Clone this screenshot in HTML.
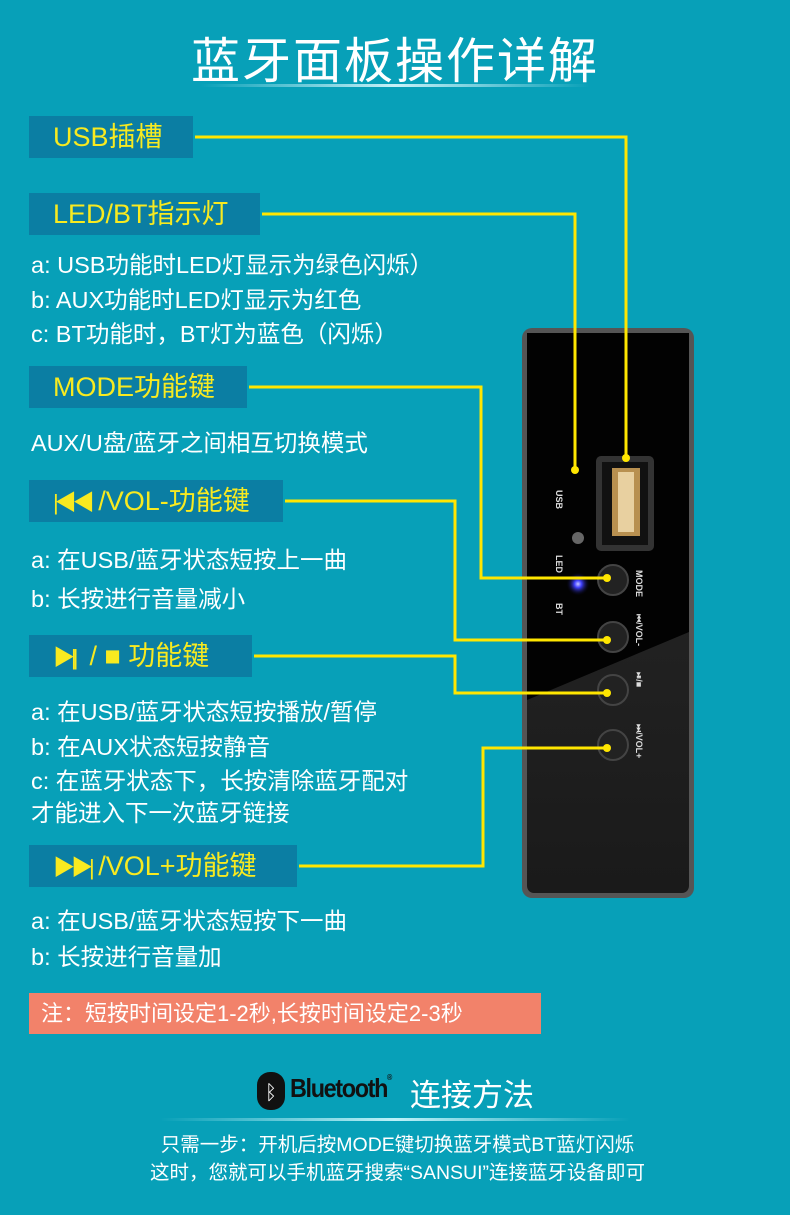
<!DOCTYPE html>
<html><head><meta charset="utf-8"><style>
body{margin:0;width:790px;height:1215px;background:#07a0b8;position:relative;overflow:hidden;font-family:"Liberation Sans","Noto Sans CJK SC",sans-serif;}
.t{position:absolute;white-space:nowrap;}
.box{position:absolute;background:#0b7ea3;color:#f8ea20;font-size:27px;line-height:42px;padding-left:24px;box-sizing:border-box;height:42px;white-space:nowrap;}
.w{position:absolute;color:#fff;font-size:23.5px;white-space:nowrap;}
.ic{font-size:22px;letter-spacing:-4px;}
</style></head><body>
<div class="t" style="left:0;width:790px;text-align:center;top:22px;font-size:49px;color:#fff;letter-spacing:2px;">蓝牙面板操作详解</div>
<div style="position:absolute;left:200px;width:390px;top:84px;height:3px;background:linear-gradient(90deg,rgba(255,255,255,0),rgba(220,250,255,.9),rgba(255,255,255,0));"></div>

<div class="box" style="left:29px;top:116px;width:164px;">USB插槽</div>
<div class="box" style="left:29px;top:193px;width:231px;">LED/BT指示灯</div>
<div class="w" style="left:31px;top:246px;">a: USB功能时LED灯显示为绿色闪烁）</div>
<div class="w" style="left:31px;top:281px;">b: AUX功能时LED灯显示为红色</div>
<div class="w" style="left:31px;top:315px;">c: BT功能时，BT灯为蓝色（闪烁）</div>
<div class="box" style="left:29px;top:366px;width:218px;">MODE功能键</div>
<div class="w" style="left:31px;top:424px;">AUX/U盘/蓝牙之间相互切换模式</div>
<div class="box" style="left:29px;top:480px;width:254px;"><span class="ic">|◀◀</span>&nbsp;/VOL-功能键</div>
<div class="w" style="left:31px;top:541px;">a: 在USB/蓝牙状态短按上一曲</div>
<div class="w" style="left:31px;top:580px;">b: 长按进行音量减小</div>
<div class="box" style="left:29px;top:635px;width:223px;"><span class="ic">▶||</span>&nbsp; / ■ 功能键</div>
<div class="w" style="left:31px;top:693px;">a: 在USB/蓝牙状态短按播放/暂停</div>
<div class="w" style="left:31px;top:728px;">b: 在AUX状态短按静音</div>
<div class="w" style="left:31px;top:762px;">c: 在蓝牙状态下，长按清除蓝牙配对</div>
<div class="w" style="left:31px;top:794px;">才能进入下一次蓝牙链接</div>
<div class="box" style="left:29px;top:845px;width:268px;"><span class="ic">▶▶|</span>&nbsp;/VOL+功能键</div>
<div class="w" style="left:31px;top:902px;">a: 在USB/蓝牙状态短按下一曲</div>
<div class="w" style="left:31px;top:938px;">b: 长按进行音量加</div>
<div style="position:absolute;left:29px;top:993px;width:512px;height:41px;background:#f2826a;color:#fff;font-size:22px;line-height:41px;padding-left:12px;box-sizing:border-box;white-space:nowrap;">注：短按时间设定1-2秒,长按时间设定2-3秒</div>

<svg style="position:absolute;left:0;top:0" width="790" height="1215">
<defs><linearGradient id="g" x1="0" y1="0" x2="0" y2="1"><stop offset="0" stop-color="#2a2a2a"/><stop offset="1" stop-color="#1a1a1a"/></linearGradient>
<radialGradient id="b"><stop offset="0" stop-color="#c8c8ff"/><stop offset=".3" stop-color="#4040ff"/><stop offset="1" stop-color="#0000" stop-opacity="0"/></radialGradient></defs>
<rect x="522" y="328" width="172" height="570" rx="10" fill="#555"/>
<rect x="527" y="333" width="162" height="560" rx="7" fill="url(#g)"/>
<polygon points="527,333 689,333 689,632 527,700" fill="#020202"/>
<rect x="596" y="456" width="58" height="95" rx="5" fill="#333"/>
<rect x="602" y="462" width="46" height="83" fill="#111"/>
<rect x="612" y="468" width="28" height="68" fill="#b89050"/>
<rect x="618" y="472" width="16" height="60" fill="#e8d0a0"/>
<circle cx="578" cy="538" r="6" fill="#666"/>
<circle cx="578" cy="584" r="12" fill="url(#b)"/>
<g fill="#222" stroke="#444" stroke-width="2">
<circle cx="613" cy="580" r="15"/><circle cx="613" cy="637" r="15"/><circle cx="613" cy="690" r="15"/><circle cx="613" cy="745" r="15"/></g>
<g fill="#ddd" font-size="9" font-family="Liberation Sans" font-weight="bold">
<text transform="translate(636,570) rotate(90)">MODE</text>
<text transform="translate(636,614) rotate(90)">⏮/VOL-</text>
<text transform="translate(636,672) rotate(90)">⏯/■</text>
<text transform="translate(636,724) rotate(90)">⏭/VOL+</text>
<text transform="translate(556,490) rotate(90)">USB</text>
<text transform="translate(556,555) rotate(90)">LED</text>
<text transform="translate(556,603) rotate(90)">BT</text>
</g>
<g fill="none" stroke="#ffe600" stroke-width="3">
<polyline points="195,137 626,137 626,458"/>
<polyline points="262,214 575,214 575,470"/>
<polyline points="249,387 481,387 481,578 607,578"/>
<polyline points="285,501 455,501 455,640 607,640"/>
<polyline points="254,656 455,656 455,693 607,693"/>
<polyline points="299,866 483,866 483,748 607,748"/>
</g>
<g fill="#ffe600"><circle cx="626" cy="458" r="4"/><circle cx="575" cy="470" r="4"/><circle cx="607" cy="578" r="4"/><circle cx="607" cy="640" r="4"/><circle cx="607" cy="693" r="4"/><circle cx="607" cy="748" r="4"/></g>
<rect x="257" y="1072" width="28" height="38" rx="13" fill="#111"/>
<text x="271" y="1099" fill="#fff" font-size="20" text-anchor="middle">ᛒ</text>
</svg>
<div class="t" style="left:290px;top:1073px;font-size:26px;font-weight:bold;color:#111;letter-spacing:-1.5px;transform:scaleX(0.9);transform-origin:left;">Bluetooth<span style="font-size:8px;vertical-align:top">®</span></div>
<div class="t" style="left:410px;top:1070px;font-size:31px;color:#fff;">连接方法</div>
<div style="position:absolute;left:160px;width:470px;top:1118px;height:3px;background:linear-gradient(90deg,rgba(255,255,255,0),rgba(210,250,255,.9),rgba(255,255,255,0));"></div>
<div class="t" style="left:0;width:795px;text-align:center;top:1128px;font-size:19.5px;color:#fff;">只需一步：开机后按MODE键切换蓝牙模式BT蓝灯闪烁</div>
<div class="t" style="left:0;width:795px;text-align:center;top:1156px;font-size:19.5px;color:#fff;">这时，您就可以手机蓝牙搜索“SANSUI”连接蓝牙设备即可</div>
</body></html>
